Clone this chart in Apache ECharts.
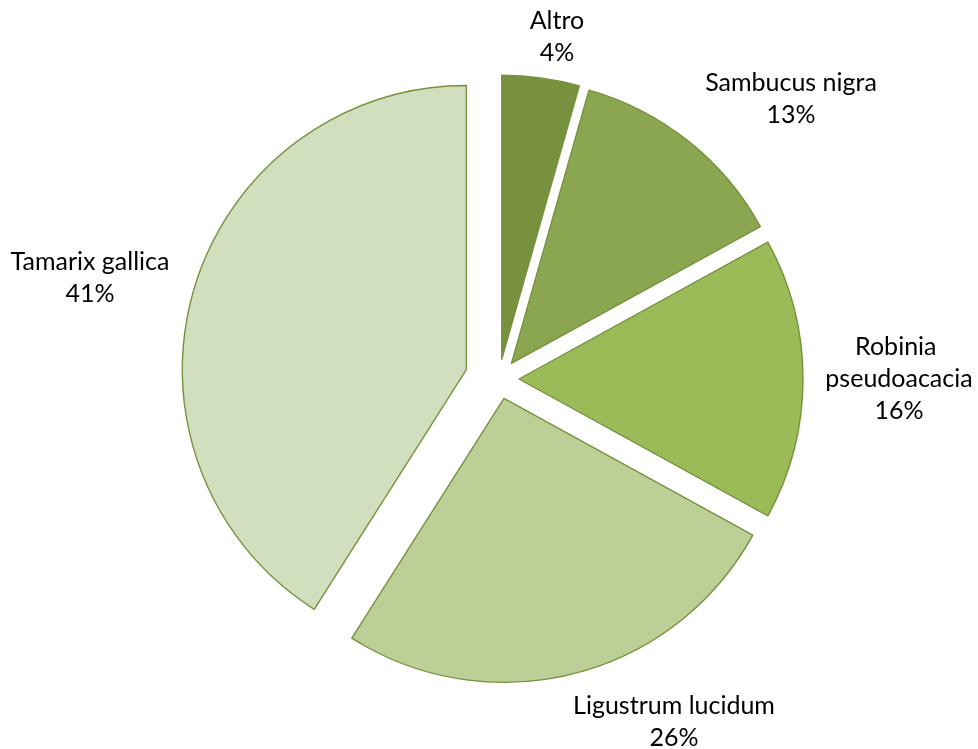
<!DOCTYPE html>
<html><head><meta charset="utf-8">
<script src="https://cdn.jsdelivr.net/npm/echarts@6/dist/echarts.min.js"></script>
<style>html,body{margin:0;padding:0;background:#fff}#c{width:978px;height:749px}</style>
</head><body><div id="c"></div>
<script>
// ---- data ----
const categories = ['Altro', 'Sambucus nigra', 'Robinia pseudoacacia', 'Ligustrum lucidum', 'Tamarix gallica'];
const shares = [4.4, 12.6, 16, 26, 41];

// ---- styles / layout ----
const sliceColors = ['#77913f', '#8ba650', '#9bbb59', '#bccf97', '#d1dfbf'];
const borderColor = '#76923c';
const bigExplode = [false, false, false, false, true];
const labelCenters = [[557, 37], [791, 99], [899, 379], [674, 722], [90, 278]];
const pieCenter = [499, 379];
const pieRadius = 284;
const FONT = 'Lato';

const chart = echarts.init(document.getElementById('c'), null, {renderer: 'canvas'});

function sliceSeries(useBig, offset) {
  return {
    type: 'pie',
    center: pieCenter,
    radius: pieRadius,
    startAngle: 90,
    clockwise: true,
    silent: true,
    animation: false,
    selectedMode: 'multiple',
    selectedOffset: offset,
    avoidLabelOverlap: false,
    label: {show: false},
    labelLine: {show: false},
    emphasis: {disabled: true},
    select: {itemStyle: {borderColor: borderColor, borderWidth: 1.4}},
    data: categories.map((name, i) => {
      const mine = bigExplode[i] === useBig;
      return {
        name: name,
        value: shares[i],
        selected: mine,
        itemStyle: mine
          ? {color: sliceColors[i], borderColor: borderColor, borderWidth: 1.4}
          : {color: 'rgba(0,0,0,0)', borderWidth: 0}
      };
    })
  };
}

const labelSeries = {
  type: 'pie',
  center: pieCenter,
  radius: pieRadius,
  startAngle: 90,
  clockwise: true,
  silent: true,
  animation: false,
  avoidLabelOverlap: false,
  itemStyle: {color: 'rgba(0,0,0,0)', borderWidth: 0},
  emphasis: {disabled: true},
  labelLine: {show: false},
  label: {
    show: true,
    position: 'outside',
    formatter: p => p.name + '\n' + Math.round(p.value) + '%',
    color: '#000',
    fontFamily: FONT,
    fontSize: 25,
    lineHeight: 32,
    align: 'center'
  },
  labelLayout: function (params) {
    const c = labelCenters[params.dataIndex];
    return {x: c[0], y: c[1], align: 'center', verticalAlign: 'middle'};
  },
  data: categories.map((name, i) => ({
    name: name,
    value: shares[i],
    label: name === 'Robinia pseudoacacia' ? {width: 150, overflow: 'break'} : {}
  }))
};

chart.setOption({
  backgroundColor: '#ffffff',
  animation: false,
  series: [sliceSeries(false, 20), sliceSeries(true, 34), labelSeries]
});
</script>
</body></html>
